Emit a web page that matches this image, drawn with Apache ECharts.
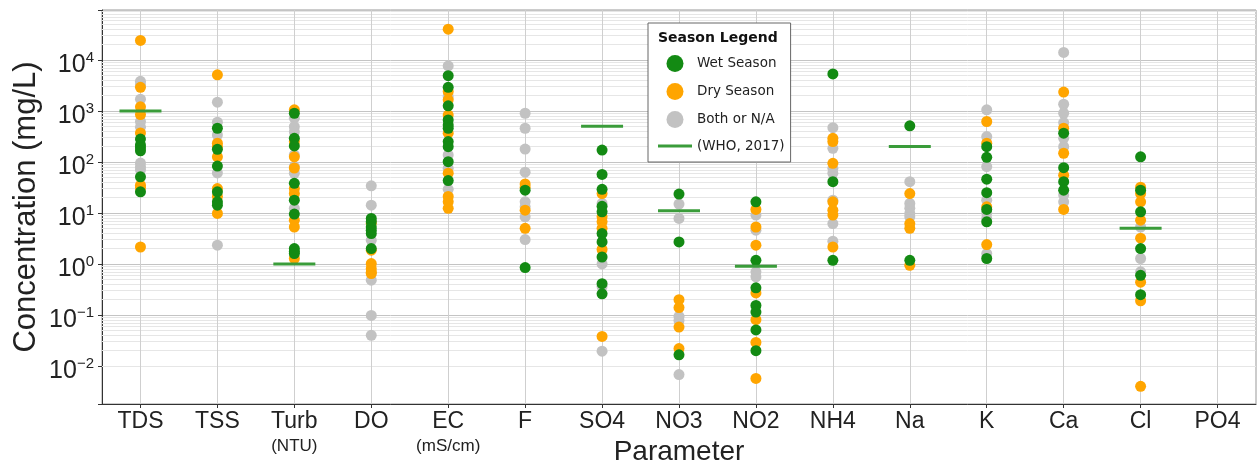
<!DOCTYPE html>
<html><head><meta charset="utf-8">
<script src="https://cdn.jsdelivr.net/npm/echarts@6/dist/echarts.min.js"></script>
<style>html,body{margin:0;padding:0;background:#fff}#c{width:1257px;height:465px}</style>
</head><body><div id="c"></div>
<script>
const categories = ['TDS','TSS','Turb','DO','EC','F','SO4','NO3','NO2','NH4','Na','K','Ca','Cl','PO4'];
const units = ['','','NTU','','mS/cm','','','','','','','','','',''];

const wetSeason = [
  [280, 215, 190, 165, 51, 26],
  [457, 177, 83, 26, 16.5, 14.2],
  [900, 290, 206, 38, 17.8, 9.5, 2.0, 1.75, 1.6],
  [7.8, 6.7, 5.3, 4.6, 3.95, 2.0],
  [4900, 2900, 1260, 665, 530, 457, 250, 199, 101, 43],
  [28, 0.85],
  [171, 57, 29, 13.5, 10.5, 3.95, 2.7, 1.37, 0.41, 0.26],
  [23.4, 2.7, 0.0166],
  [16.5, 1.18, 0.34, 0.154, 0.114, 0.051, 0.020],
  [5300, 41, 1.18],
  [510, 1.18],
  [199, 123, 46, 25, 11.7, 6.7, 1.28],
  [365, 77, 41, 28],
  [126, 28, 10.5, 2.0, 0.60, 0.25],
  []
];
const drySeason = [
  [24000, 2900, 1200, 850, 370, 35, 31, 2.15],
  [5100, 233, 200, 126, 30, 21, 9.8],
  [1050, 250, 126, 76, 30, 24, 7.2, 5.3, 1.28],
  [6.3, 1.86, 1.02, 0.81, 0.69, 0.65],
  [40000, 2400, 1650, 830, 365, 60, 21, 16.5, 12.3],
  [37, 32, 11.3, 5.0],
  [24, 8.4, 6.7, 5.0, 1.92, 0.038],
  [0.20, 0.14, 0.058, 0.022],
  [11.7, 5.3, 2.33, 0.27, 0.081, 0.029, 0.0057],
  [290, 250, 94, 16.5, 11.3, 9.1, 2.15],
  [24, 6.2, 5.0, 0.94],
  [620, 233, 13.2, 2.4],
  [2340, 457, 148, 55, 11.7],
  [32, 24, 16.5, 7.2, 3.2, 0.44, 0.19, 0.004],
  []
];
const bothOrNA = [
  [3800, 3300, 1700, 620, 480, 95, 80, 70],
  [1480, 600, 337, 61, 2.33],
  [720, 490, 390, 137, 81, 60, 12.3],
  [34, 14.2, 2.9, 0.48, 0.098, 0.040],
  [7600, 1900, 137, 75, 29],
  [900, 457, 179, 63, 16.5, 13.2, 8.4, 3.0],
  [15.4, 1.0, 0.36, 0.0195],
  [14.9, 7.8, 0.094, 0.078, 0.0068],
  [9.1, 4.6, 0.70, 0.56],
  [470, 185, 75, 60, 17.8, 6.2, 2.8],
  [41, 15.4, 12.3, 9.8, 8.4],
  [1050, 314, 81, 17.8, 10, 7.8, 1.6],
  [14000, 1350, 900, 590, 290, 199, 22.4, 16.5],
  [5.3, 1.28, 0.70],
  []
];
const whoGuideline = [1000, null, 1, null, null, null, 500, 11, 0.9, null, 200, null, null, 5, null];

const Y_MIN = 0.0018, Y_MAX = 95000;
const FONT = 'Liberation Sans, Arial, sans-serif';
const LFONT = 'DejaVu Sans, sans-serif';
const GREEN = '#138a13', ORANGE = '#ffa500', GRAY = '#c2c2c2', WHO = '#3a9c3a';

function toPoints(arr) {
  const out = [];
  arr.forEach((vals, i) => vals.forEach(v => out.push([categories[i], v])));
  return out;
}
const whoPoints = whoGuideline.map((v, i) => v == null ? null : [categories[i], v]).filter(Boolean);

const minorLines = [];
for (let e = -3; e <= 4; e++) {
  for (let m = 2; m <= 9; m++) {
    const v = m * Math.pow(10, e);
    if (v > Y_MIN && v < Y_MAX) minorLines.push({ yAxis: v });
  }
}
const vLines = categories.map(c => ({ xAxis: c }));

const chart = echarts.init(document.getElementById('c'), null, { renderer: 'canvas' });
chart.setOption({
  backgroundColor: '#ffffff',
  animation: false,
  grid: { left: 102, right: 1, top: 10, bottom: 61, containLabel: false, outerBoundsMode: 'none',
    show: true, borderColor: '#999', borderWidth: 1, backgroundColor: '#fff' },
  xAxis: {
    type: 'category',
    data: categories,
    boundaryGap: true,
    name: 'Parameter',
    nameLocation: 'middle',
    nameGap: 34,
    nameMoveOverlap: false,
    nameTextStyle: { fontFamily: FONT, fontSize: 28, color: '#222' },
    axisLine: { show: true, lineStyle: { color: '#333', width: 1 } },
    axisTick: { show: true, alignWithLabel: true, length: 4, lineStyle: { color: '#333' } },
    splitLine: { show: false },
    axisLabel: {
      interval: 0,
      margin: 6,
      fontFamily: FONT, fontSize: 23, color: '#222', lineHeight: 24,
      formatter: (val, idx) => units[idx] ? val + '\n{u|(' + units[idx] + ')}' : val,
      rich: { u: { fontFamily: FONT, fontSize: 17, lineHeight: 25, color: '#222' } }
    }
  },
  yAxis: {
    type: 'log',
    logBase: 10,
    min: Y_MIN,
    max: Y_MAX,
    splitNumber: 8,
    name: 'Concentration (mg/L)',
    nameLocation: 'middle',
    nameGap: 60,
    nameMoveOverlap: false,
    nameTextStyle: { fontFamily: FONT, fontSize: 31, color: '#222' },
    axisLine: { show: true, lineStyle: { color: '#333', width: 1 } },
    axisTick: { show: true, length: 4, lineStyle: { color: '#333' } },
    splitLine: { show: true, lineStyle: { color: '#c4c4c4', width: 1 } },
    axisLabel: {
      margin: 8,
      color: '#222',
      formatter: function (v) {
        const e = Math.log10(v); const r = Math.round(e);
        if (Math.abs(e - r) > 1e-6) return '';
        return '{b|10}{s|' + (r < 0 ? '\u2212' + (-r) : r) + '}';
      },
      rich: {
        b: { fontFamily: FONT, fontSize: 25, color: '#222', lineHeight: 25, padding: [10, 0, 0, 0] },
        s: { fontFamily: FONT, fontSize: 15, color: '#222', lineHeight: 15, verticalAlign: 'top', padding: [3, 0, 0, 0] }
      }
    }
  },
  legend: {
    orient: 'vertical',
    left: 648, top: 23,
    padding: [32, 6, 9, 10],
    itemWidth: 34, itemHeight: 17, itemGap: 11,
    backgroundColor: '#fff',
    borderColor: '#666', borderWidth: 1,
    textStyle: { fontFamily: LFONT, fontSize: 13.5, color: '#222' },
    selectedMode: false,
    data: [
      { name: 'Wet Season', icon: 'circle' },
      { name: 'Dry Season', icon: 'circle' },
      { name: 'Both or N/A', icon: 'circle' },
      { name: '(WHO, 2017)', icon: 'path://M0,0H34V3H0Z' }
    ]
  },
  graphic: [{
    type: 'text', z: 100, left: 658, top: 31,
    style: { text: 'Season Legend', fontFamily: LFONT, fontWeight: 'bold', fontSize: 14, fill: '#111' }
  }],
  series: [
    {
      name: 'grid-lines', type: 'scatter', data: [], silent: true,
      markLine: {
        silent: true, z: 1, symbol: ['none', 'none'], label: { show: false },
        emphasis: { disabled: true },
        data: minorLines.map(d => Object.assign({ lineStyle: { color: '#e6e6e6', width: 1, type: 'solid' } }, d))
          .concat(vLines.map(d => Object.assign({ lineStyle: { color: '#cfcfcf', width: 1, type: 'solid' } }, d)))
      }
    },
    { name: 'Both or N/A', type: 'scatter', z: 2, symbol: 'circle', symbolSize: 11, itemStyle: { color: GRAY, opacity: 1 }, data: toPoints(bothOrNA) },
    { name: 'Dry Season', type: 'scatter', z: 3, symbol: 'circle', symbolSize: 11, itemStyle: { color: ORANGE, opacity: 1 }, data: toPoints(drySeason) },
    { name: 'Wet Season', type: 'scatter', z: 4, symbol: 'circle', symbolSize: 11, itemStyle: { color: GREEN, opacity: 1 }, data: toPoints(wetSeason) },
    { name: '(WHO, 2017)', type: 'scatter', z: 5, symbol: 'rect', symbolSize: [42, 3], itemStyle: { color: WHO, opacity: 1 }, data: whoPoints }
  ]
});
</script>
</body></html>
